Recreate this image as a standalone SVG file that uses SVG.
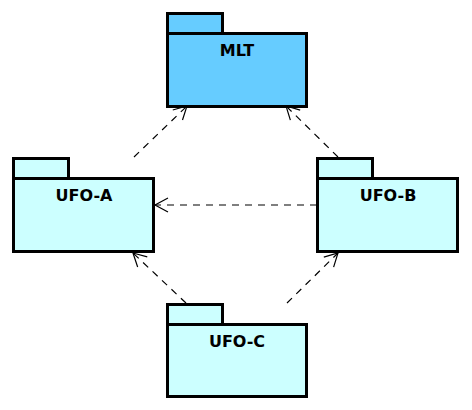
<svg xmlns="http://www.w3.org/2000/svg" width="472" height="410" viewBox="0 0 472 410">
<defs>
<style>
.pk{stroke:#000;stroke-width:3}
.mlt{fill:#66CCFF}
.ufo{fill:#CCFFFF}
.lbl{font-family:"DejaVu Sans",sans-serif;font-weight:bold;font-size:16px;text-anchor:middle;fill:#000}
.dep{stroke:#000;stroke-width:1.2;fill:none;stroke-dasharray:7,6}
</style>
<marker id="open" markerUnits="userSpaceOnUse" markerWidth="20" markerHeight="20" viewBox="-14 -10 16 20" refX="0" refY="0" orient="auto">
<path d="M-13,-7 L0,0 L-13,7" fill="none" stroke="#000" stroke-width="1.2"/>
</marker>
</defs>
<rect width="472" height="410" fill="#fff"/>
<g id="connectors">
<line class="dep" x1="134" y1="157" x2="187" y2="106" marker-end="url(#open)"/>
<line class="dep" x1="338" y1="157" x2="286" y2="106" marker-end="url(#open)"/>
<line class="dep" x1="317" y1="205" x2="155" y2="205" marker-end="url(#open)"/>
<line class="dep" x1="186" y1="303" x2="133" y2="253" marker-end="url(#open)"/>
<line class="dep" x1="287" y1="303" x2="338" y2="253" marker-end="url(#open)"/>
</g>
<g id="MLT">
<rect class="pk mlt" x="167.5" y="13.5" width="55" height="20"/>
<rect class="pk mlt" x="167.5" y="33.5" width="139" height="73"/>
<text class="lbl" x="237" y="56">MLT</text>
</g>
<g id="UFO-A">
<rect class="pk ufo" x="13.5" y="158.5" width="55" height="20"/>
<rect class="pk ufo" x="13.5" y="178.5" width="140" height="73"/>
<text class="lbl" x="84" y="201">UFO-A</text>
</g>
<g id="UFO-B">
<rect class="pk ufo" x="317.5" y="158.5" width="55" height="20"/>
<rect class="pk ufo" x="317.5" y="178.5" width="140" height="73"/>
<text class="lbl" x="388" y="201">UFO-B</text>
</g>
<g id="UFO-C">
<rect class="pk ufo" x="167.5" y="304.5" width="55" height="20"/>
<rect class="pk ufo" x="167.5" y="324.5" width="139" height="72"/>
<text class="lbl" x="237" y="347">UFO-C</text>
</g>
</svg>
